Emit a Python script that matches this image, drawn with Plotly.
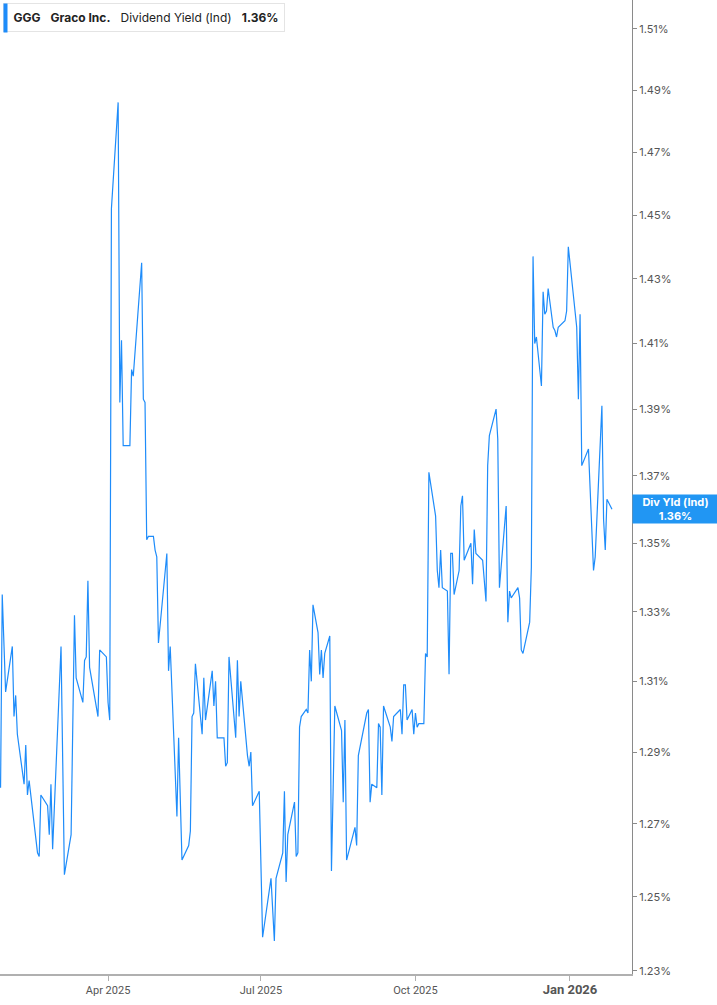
import math
import plotly.graph_objects as go

# GGG dividend yield (indicated), %
dates = [
    "2025-01-27", "2025-01-28", "2025-01-30", "2025-02-03", "2025-02-04", "2025-02-05", "2025-02-06",
    "2025-02-10", "2025-02-11", "2025-02-12", "2025-02-13", "2025-02-18", "2025-02-19", "2025-02-20",
    "2025-02-24", "2025-02-25", "2025-02-26", "2025-02-27", "2025-03-04", "2025-03-06", "2025-03-10",
    "2025-03-12", "2025-03-13", "2025-03-17", "2025-03-18", "2025-03-19", "2025-03-20", "2025-03-21",
    "2025-03-26", "2025-03-27", "2025-03-31", "2025-04-01", "2025-04-02", "2025-04-03", "2025-04-07",
    "2025-04-08", "2025-04-09", "2025-04-10", "2025-04-14", "2025-04-15", "2025-04-16", "2025-04-21",
    "2025-04-22", "2025-04-23", "2025-04-24", "2025-04-25", "2025-04-28", "2025-04-29", "2025-04-30",
    "2025-05-01", "2025-05-06", "2025-05-07", "2025-05-08", "2025-05-12", "2025-05-13", "2025-05-15",
    "2025-05-19", "2025-05-20", "2025-05-21", "2025-05-22", "2025-05-23", "2025-05-27", "2025-05-28",
    "2025-05-29", "2025-06-02", "2025-06-03", "2025-06-04", "2025-06-05", "2025-06-09", "2025-06-10",
    "2025-06-11", "2025-06-12", "2025-06-16", "2025-06-17", "2025-06-18", "2025-06-19", "2025-06-23",
    "2025-06-24", "2025-06-25", "2025-06-26", "2025-06-30", "2025-07-02", "2025-07-07", "2025-07-09",
    "2025-07-10", "2025-07-14", "2025-07-15", "2025-07-16", "2025-07-17", "2025-07-21", "2025-07-22",
    "2025-07-23", "2025-07-24", "2025-07-25", "2025-07-28", "2025-07-29", "2025-07-30", "2025-07-31",
    "2025-08-01", "2025-08-04", "2025-08-05", "2025-08-06", "2025-08-07", "2025-08-08", "2025-08-11",
    "2025-08-12", "2025-08-14", "2025-08-18", "2025-08-19", "2025-08-20", "2025-08-21", "2025-08-26",
    "2025-08-27", "2025-08-28", "2025-09-02", "2025-09-03", "2025-09-04", "2025-09-05", "2025-09-08",
    "2025-09-09", "2025-09-10", "2025-09-11", "2025-09-12", "2025-09-15", "2025-09-16", "2025-09-17",
    "2025-09-18", "2025-09-22", "2025-09-23", "2025-09-24", "2025-09-25", "2025-09-26", "2025-09-29",
    "2025-09-30", "2025-10-01", "2025-10-02", "2025-10-03", "2025-10-06", "2025-10-07", "2025-10-08",
    "2025-10-09", "2025-10-13", "2025-10-14", "2025-10-15", "2025-10-16", "2025-10-17", "2025-10-20",
    "2025-10-21", "2025-10-22", "2025-10-23", "2025-10-24", "2025-10-27", "2025-10-28", "2025-10-29",
    "2025-10-30", "2025-11-03", "2025-11-04", "2025-11-05", "2025-11-06", "2025-11-10", "2025-11-12",
    "2025-11-13", "2025-11-14", "2025-11-18", "2025-11-19", "2025-11-20", "2025-11-24", "2025-11-25",
    "2025-11-26", "2025-11-27", "2025-12-01", "2025-12-02", "2025-12-03", "2025-12-04", "2025-12-08",
    "2025-12-09", "2025-12-10", "2025-12-11", "2025-12-12", "2025-12-15", "2025-12-16", "2025-12-17",
    "2025-12-18", "2025-12-19", "2025-12-22", "2025-12-23", "2025-12-24", "2025-12-25", "2025-12-29",
    "2025-12-30", "2025-12-31", "2026-01-05", "2026-01-06", "2026-01-07", "2026-01-08", "2026-01-12",
    "2026-01-15", "2026-01-16", "2026-01-20", "2026-01-21", "2026-01-22", "2026-01-23", "2026-01-26",
]
div_yield = [
    1.280, 1.335, 1.307, 1.320, 1.300, 1.306, 1.295,
    1.281, 1.292, 1.278, 1.282, 1.262, 1.261, 1.278,
    1.275, 1.267, 1.281, 1.263, 1.320, 1.256, 1.267,
    1.329, 1.311, 1.304, 1.316, 1.317, 1.339, 1.314,
    1.300, 1.319, 1.317, 1.304, 1.299, 1.452, 1.486,
    1.392, 1.411, 1.379, 1.379, 1.402, 1.400, 1.435,
    1.393, 1.392, 1.351, 1.352, 1.352, 1.348, 1.346,
    1.321, 1.347, 1.313, 1.320, 1.272, 1.294, 1.260,
    1.264, 1.268, 1.300, 1.301, 1.315, 1.295, 1.311,
    1.299, 1.313, 1.303, 1.310, 1.294, 1.294, 1.286,
    1.287, 1.317, 1.294, 1.316, 1.300, 1.310, 1.289,
    1.286, 1.290, 1.275, 1.279, 1.239, 1.255, 1.238,
    1.255, 1.262, 1.279, 1.254, 1.267, 1.276, 1.261,
    1.262, 1.297, 1.300, 1.302, 1.301, 1.319, 1.310,
    1.332, 1.324, 1.312, 1.319, 1.311, 1.318, 1.323,
    1.257, 1.303, 1.296, 1.276, 1.299, 1.260, 1.269,
    1.264, 1.289, 1.301, 1.302, 1.276, 1.281, 1.280,
    1.298, 1.297, 1.278, 1.303, 1.298, 1.297, 1.293,
    1.300, 1.302, 1.295, 1.309, 1.309, 1.299, 1.302,
    1.295, 1.301, 1.297, 1.298, 1.298, 1.318, 1.317,
    1.371, 1.358, 1.342, 1.337, 1.348, 1.337, 1.336,
    1.312, 1.347, 1.347, 1.335, 1.342, 1.361, 1.364,
    1.345, 1.350, 1.338, 1.354, 1.347, 1.345, 1.333,
    1.373, 1.382, 1.390, 1.381, 1.337, 1.361, 1.327,
    1.336, 1.334, 1.337, 1.334, 1.319, 1.318, 1.327,
    1.343, 1.437, 1.410, 1.412, 1.397, 1.426, 1.419,
    1.420, 1.427, 1.415, 1.414, 1.412, 1.415, 1.417,
    1.420, 1.440, 1.415, 1.393, 1.419, 1.373, 1.378,
    1.342, 1.346, 1.391, 1.357, 1.348, 1.363, 1.360,
]

ytick_vals = [1.23, 1.25, 1.27, 1.29, 1.31, 1.33, 1.35, 1.37, 1.39, 1.41, 1.43, 1.45, 1.47, 1.49, 1.51]
xtick_vals = ["2025-04-01", "2025-07-01", "2025-10-01", "2026-01-01"]
xtick_text = ["Apr 2025", "Jul 2025", "Oct 2025",
              "<span style='font-size:13px'><b>Jan 2026</b></span>"]

LINE_BLUE = "#1E8CFA"
last_val = div_yield[-1]

fig = go.Figure()
fig.add_trace(go.Scatter(
    x=dates, y=div_yield, mode="lines",
    line=dict(color=LINE_BLUE, width=1.2),
    hoverinfo="x+y", showlegend=False,
))

fig.update_layout(
    width=717, height=1005,
    margin=dict(l=0, r=85, t=0, b=31),
    paper_bgcolor="white", plot_bgcolor="white",
    font=dict(family="Inter, Roboto, sans-serif", color="#555555", size=11),
    xaxis=dict(
        type="date",
        range=["2025-01-26 16:00", "2026-02-06 22:00"],
        tickvals=xtick_vals, ticktext=xtick_text,
        showgrid=False, zeroline=False,
        showline=True, linecolor="#b0b0b0", linewidth=2,
        ticks="outside", ticklen=5, tickcolor="#b0b0b0",
        tickfont=dict(family="Roboto, sans-serif", size=11, color="#555555"),
    ),
    yaxis=dict(
        type="log", side="right",
        range=[0.0896, 0.1817],
        tickvals=ytick_vals, ticktext=[f"{v:.2f}%" for v in ytick_vals],
        showgrid=False, zeroline=False,
        showline=True, linecolor="#8a8a8a", linewidth=1,
        ticks="outside", ticklen=4, tickcolor="#8a8a8a",
        tickfont=dict(family="Inter, Roboto, sans-serif", size=11, color="#555555"),
    ),
)

# header box
nb = "\u00a0"
header = (f"{nb}<b>GGG</b>{nb*3}<b>Graco Inc.</b>{nb*3}Dividend Yield (Ind)"
          f"{nb*3}<b>{last_val:.2f}%</b>")
fig.add_annotation(
    xref="paper", yref="paper", x=0, y=1, xanchor="left", yanchor="top",
    xshift=3, yshift=-3, text=header, showarrow=False, align="left",
    font=dict(family="Inter, Roboto, sans-serif", size=12, color="#222222"),
    bgcolor="white", bordercolor="#e4e4e4", borderwidth=1, borderpad=6,
)
# blue marker bar at the left edge of the header box
fig.add_annotation(
    xref="paper", yref="paper", x=0, y=1, xanchor="left", yanchor="top",
    xshift=3, yshift=-3, text="", showarrow=False,
    width=3, height=28, borderpad=0, bgcolor=LINE_BLUE,
)

# last value badge on the right axis
fig.add_annotation(
    xref="paper", yref="y", x=1, y=math.log10(last_val),
    xanchor="left", yanchor="middle",
    text=f"<b>Div Yld (Ind)</b><br><b>{last_val:.2f}%</b>",
    showarrow=False, width=79, height=22, borderpad=3,
    font=dict(family="Inter, Roboto, sans-serif", size=11, color="white"),
    bgcolor="#2196F3", align="center",
)

fig.write_html("out.html", config={"displayModeBar": False},
               post_script="document.body.style.margin='0';")
